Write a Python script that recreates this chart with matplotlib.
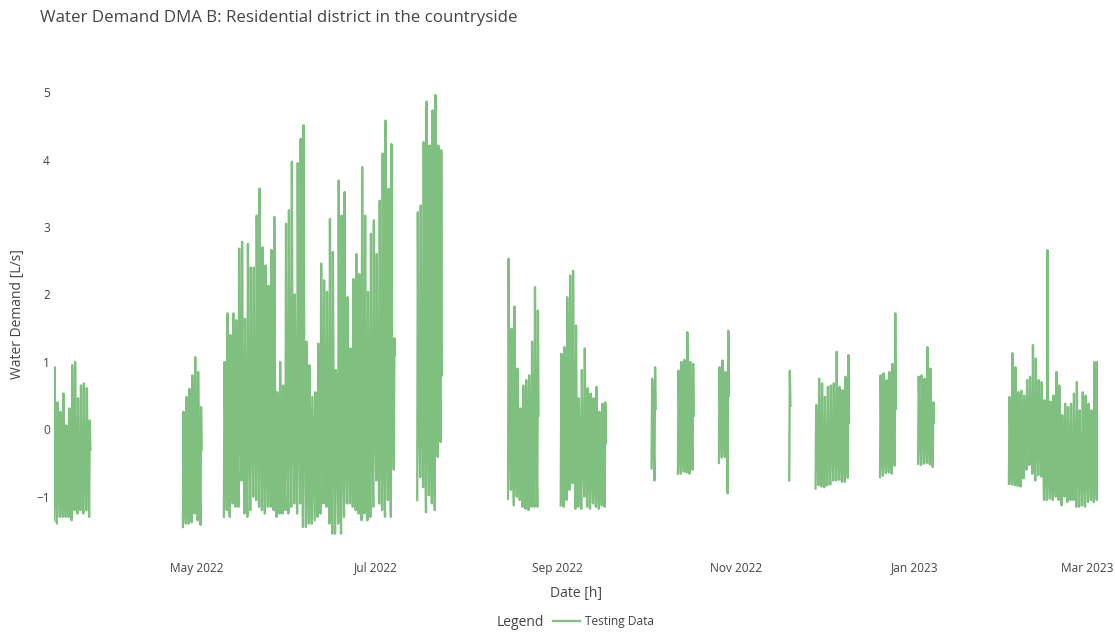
import numpy as np
import pandas as pd
import matplotlib
matplotlib.use("Agg")
import matplotlib.pyplot as plt
import matplotlib.dates as mdates

plt.rcParams['font.family'] = ['Open Sans', 'DejaVu Sans']

# daily demand readings [L/s] per measuring campaign: night low, day level, peak
mar22_start = "2022-03-13"
mar22_low = [-1.35, -1.4, -1.3, -1.3, -1.3, -1.3, -1.35, -1.2, -1.25, -1.2, -1.25, -1.2, -1.3]
mar22_base = [-0.3, -0.2, -0.4, -0.3, -0.4, -0.3, -0.2, -0.3, -0.4, -0.2, -0.3, -0.1, -0.3]
mar22_high = [0.92, 0.4, 0.26, 0.53, 0.06, 0.31, 0.95, 1.0, 0.46, 0.65, 0.68, 0.61, 0.13]

apr22_start = "2022-04-26"
apr22_low = [-1.45, -1.4, -1.4, -1.38, -1.25, -1.35, -1.42]
apr22_base = [-0.5, -0.3, -0.2, 0.0, 0.1, -0.1, -0.3]
apr22_high = [0.26, 0.48, 0.6, 0.8, 1.07, 0.85, 0.33]

may22_start = "2022-05-10"
may22_low = [-1.3, -1.2, -1.3, -1.1, -1.15, -1.15, -0.76, -1.25, -1.3, -1.2,
             -1.0, -1.05, -1.15, -1.2, -1.25, -1.15, -1.15, -1.2, -1.3, -1.25,
             -1.25, -1.2, -1.25, -1.15, -1.1, -1.25, -1.1, -1.45,
             -1.45, -1.4, -1.4, -1.35, -1.3, -1.25, -1.1, -1.15, -1.4, -1.55,
             -1.55, -1.4, -1.55, -1.3, -1.1, -1.1, -1.15, -1.2, -1.25, -1.35,
             -1.25, -1.35, -1.3, -1.15, -0.76, -1.1, -1.2, -1.3, -1.05, -1.3, -0.6]
may22_base = [0.2, 0.4, 0.5, 0.5, 0.5, 0.7, 0.8, 0.5, 0.8, 0.8,
              0.7, 0.9, 1.0, 0.8, 0.7, 0.6, 0.7, 0.8, 0.0, 0.1,
              0.0, 0.8, 0.9, 1.0, 0.6, 1.1, 1.2, 1.3,
              0.5, 0.2, 0.0, -0.1, 0.1, 0.4, 0.6, 0.5, 0.6, 0.8,
              0.7, 0.1, 0.9, 0.8, 0.9, 0.5, 0.3, 0.6, 0.7, 0.6,
              0.9, 0.8, 0.6, 0.8, 0.8, 0.7, 0.9, 1.1, 1.2, 1.0, 1.1]
may22_high = [1.0, 1.72, 1.4, 1.72, 1.62, 2.68, 2.78, 1.64, 2.75, 2.4,
              2.4, 3.17, 3.57, 2.7, 2.43, 2.13, 2.66, 3.15, 0.55, 1.0,
              0.65, 3.05, 3.25, 3.97, 2.0, 3.95, 4.31, 4.51,
              1.3, 0.95, 0.48, 0.55, 1.27, 2.46, 2.21, 2.04, 3.12, 2.63,
              0.88, 3.69, 3.17, 3.52, 1.96, 1.2, 2.23, 2.6, 2.3, 3.89,
              3.17, 2.04, 2.9, 3.1, 2.6, 3.39, 4.09, 4.58, 3.57, 4.23, 1.35]

jul22_start = "2022-07-15"
jul22_low = [-1.05, -0.71, -0.86, -1.23, -0.98, -1.1, -1.2, -0.41, -0.19]
jul22_base = [1.0, 1.2, 1.5, 1.3, 1.2, 1.4, 1.5, 1.2, 0.8]
jul22_high = [3.22, 3.32, 4.26, 4.86, 4.21, 4.73, 4.96, 4.21, 4.14]

aug22_start = "2022-08-15"
aug22_low = [-1.03, -0.9, -1.13, -1.0, -1.05, -1.15, -1.18, -1.2, -1.15, -1.15, -1.15]
aug22_base = [0.6, 0.3, 0.2, 0.0, -0.2, -0.1, 0.0, 0.0, 0.1, 0.3, 0.2]
aug22_high = [2.53, 1.49, 1.82, 0.9, 0.31, 0.65, 0.73, 0.8, 1.3, 2.11, 1.76]

sep22_start = "2022-09-02"
sep22_low = [-1.13, -1.15, -1.05, -0.9, -0.8, -1.18, -1.15, -1.18, -1.0, -1.15,
             -1.18, -1.1, -1.15, -1.18, -1.13, -1.15]
sep22_base = [0.2, 0.4, 0.5, 0.6, 0.5, 0.2, 0.0, -0.1, 0.0, -0.2,
              -0.2, -0.3, -0.2, -0.3, -0.3, -0.2]
sep22_high = [1.12, 1.22, 1.96, 2.28, 2.35, 1.54, 0.46, 0.88, 1.2, 0.61,
              0.53, 0.46, 0.63, 0.26, 0.38, 0.4]

oct22a_start = "2022-10-03"
oct22a_low = [-0.58, -0.76]
oct22a_base = [0.4, 0.3]
oct22a_high = [0.75, 0.92]

oct22b_start = "2022-10-12"
oct22b_low = [-0.66, -0.66, -0.63, -0.64, -0.66, -0.6]
oct22b_base = [0.3, 0.3, 0.2, 0.3, 0.3, 0.2]
oct22b_high = [0.87, 1.0, 1.03, 1.44, 1.0, 0.97]

oct22c_start = "2022-10-26"
oct22c_low = [-0.5, -0.42, -0.41, -0.95]
oct22c_base = [0.3, 0.4, 0.3, 0.5]
oct22c_high = [0.92, 1.02, 0.85, 1.46]

nov22a_start = "2022-11-19"
nov22a_low = [-0.76]
nov22a_base = [0.35]
nov22a_high = [0.87]

nov22b_start = "2022-11-28"
nov22b_low = [-0.88, -0.83, -0.85, -0.86, -0.83, -0.82, -0.76, -0.76, -0.75, -0.78, -0.78, -0.72]
nov22b_base = [0.0, -0.1, -0.1, -0.2, -0.1, 0.0, 0.0, -0.1, 0.0, -0.1, 0.0, 0.1]
nov22b_high = [0.36, 0.75, 0.68, 0.48, 0.63, 0.65, 0.68, 1.15, 0.63, 0.58, 0.78, 1.1]

dec22_start = "2022-12-20"
dec22_low = [-0.71, -0.69, -0.65, -0.64, -0.66, -0.54]
dec22_base = [0.0, 0.1, 0.1, 0.1, 0.2, 0.3]
dec22_high = [0.8, 0.83, 0.73, 0.85, 0.97, 1.72]

jan23_start = "2023-01-02"
jan23_low = [-0.51, -0.53, -0.51, -0.5, -0.52, -0.56]
jan23_base = [0.3, 0.4, 0.4, 0.3, 0.3, 0.1]
jan23_high = [0.78, 0.8, 0.75, 1.22, 0.9, 0.4]

feb23_start = "2023-02-02"
feb23_low = [-0.81, -0.82, -0.83, -0.84, -0.85, -0.73, -0.6, -0.53, -0.66, -0.76,
             -0.68, -0.7, -1.05, -1.05, -1.03, -1.05, -1.0, -1.05, -1.13, -1.0,
             -1.08, -1.05, -1.05, -1.15, -1.15, -1.13, -1.15, -1.08, -1.05, -1.08, -1.05]
feb23_base = [0.0, 0.1, 0.1, 0.0, 0.0, 0.1, 0.2, 0.2, 0.2, 0.1,
              0.1, 0.0, -0.2, -0.2, -0.3, -0.3, -0.2, -0.3, -0.4, -0.3,
              -0.3, -0.3, -0.2, -0.2, -0.3, -0.3, -0.3, -0.3, -0.3, -0.1, -0.1]
feb23_high = [0.48, 1.13, 0.92, 0.55, 0.57, 0.5, 0.73, 0.78, 1.25, 1.05,
              0.73, 0.7, 0.43, 2.66, 0.41, 0.5, 0.85, 0.65, 0.21, 0.38,
              0.33, 0.38, 0.53, 0.7, 0.28, 0.55, 0.5, 0.38, 0.28, 1.0, 1.0]

segments = [
    (mar22_start, mar22_low, mar22_base, mar22_high),
    (apr22_start, apr22_low, apr22_base, apr22_high),
    (may22_start, may22_low, may22_base, may22_high),
    (jul22_start, jul22_low, jul22_base, jul22_high),
    (aug22_start, aug22_low, aug22_base, aug22_high),
    (sep22_start, sep22_low, sep22_base, sep22_high),
    (oct22a_start, oct22a_low, oct22a_base, oct22a_high),
    (oct22b_start, oct22b_low, oct22b_base, oct22b_high),
    (oct22c_start, oct22c_low, oct22c_base, oct22c_high),
    (nov22a_start, nov22a_low, nov22a_base, nov22a_high),
    (nov22b_start, nov22b_low, nov22b_base, nov22b_high),
    (dec22_start, dec22_low, dec22_base, dec22_high),
    (jan23_start, jan23_low, jan23_base, jan23_high),
    (feb23_start, feb23_low, feb23_base, feb23_high),
]

tick_dates = ["2022-05-01", "2022-07-01", "2022-09-01", "2022-11-01", "2023-01-01", "2023-03-01"]
y_ticks = [-1, 0, 1, 2, 3, 4, 5]

# hour of the day for each reading: night low, peak, day level
day_hours = [4, 9, 14]

line_color = "#7fbf7f"
text_color = "#444444"

fig = plt.figure(figsize=(11.15, 6.34), dpi=100)
ax = fig.add_axes([54 / 1115, 1 - 556 / 634, 1044 / 1115, 484 / 634])

x_min, x_max = None, None
for i, (start, low, base, high) in enumerate(segments):
    days = pd.date_range(start, periods=len(high), freq="D")
    xs, ys = [], []
    for d, lo, b, hi in zip(days, low, base, high):
        xs += [d + pd.Timedelta(hours=h) for h in day_hours]
        ys += [lo, hi, b]
    ax.plot(xs, ys, color=line_color, lw=1.65,
            label="Testing Data" if i == 0 else None)
    x_min = xs[0] if x_min is None else min(x_min, xs[0])
    x_max = xs[-1] if x_max is None else max(x_max, xs[-1])

ax.set_xlim(x_min, x_max)
ax.set_ylim(-1.88, 5.30)

ax.set_xticks(pd.to_datetime(tick_dates))
ax.xaxis.set_major_formatter(mdates.DateFormatter("%b %Y"))
ax.set_yticks(y_ticks)
ax.tick_params(length=0, labelsize=8.6, labelcolor=text_color)
ax.tick_params(axis="x", pad=4)
ax.tick_params(axis="y", pad=3)
for s in ax.spines.values():
    s.set_visible(False)

fig.text(40 / 1115, 1 - 18 / 634, "Water Demand DMA B: Residential district in the countryside",
         fontsize=12.2, color=text_color, ha="left", va="center")
fig.text(18 / 1115, 1 - 314 / 634, "Water Demand [L/s]", rotation=90,
         fontsize=10, color=text_color, ha="center", va="center")
fig.text(576 / 1115, 1 - 593 / 634, "Date [h]", fontsize=10, color=text_color,
         ha="center", va="center")

fig.text(497 / 1115, 1 - 622 / 634, "Legend", fontsize=10, color=text_color,
         ha="left", va="center")
leg = fig.legend(loc="center left", bbox_to_anchor=(553 / 1115, 1 - 622 / 634),
                 frameon=False, fontsize=8.6, handlelength=2.3, handletextpad=0.35,
                 borderpad=0, borderaxespad=0)
for t in leg.get_texts():
    t.set_color(text_color)

fig.savefig("out.png", dpi=100)
